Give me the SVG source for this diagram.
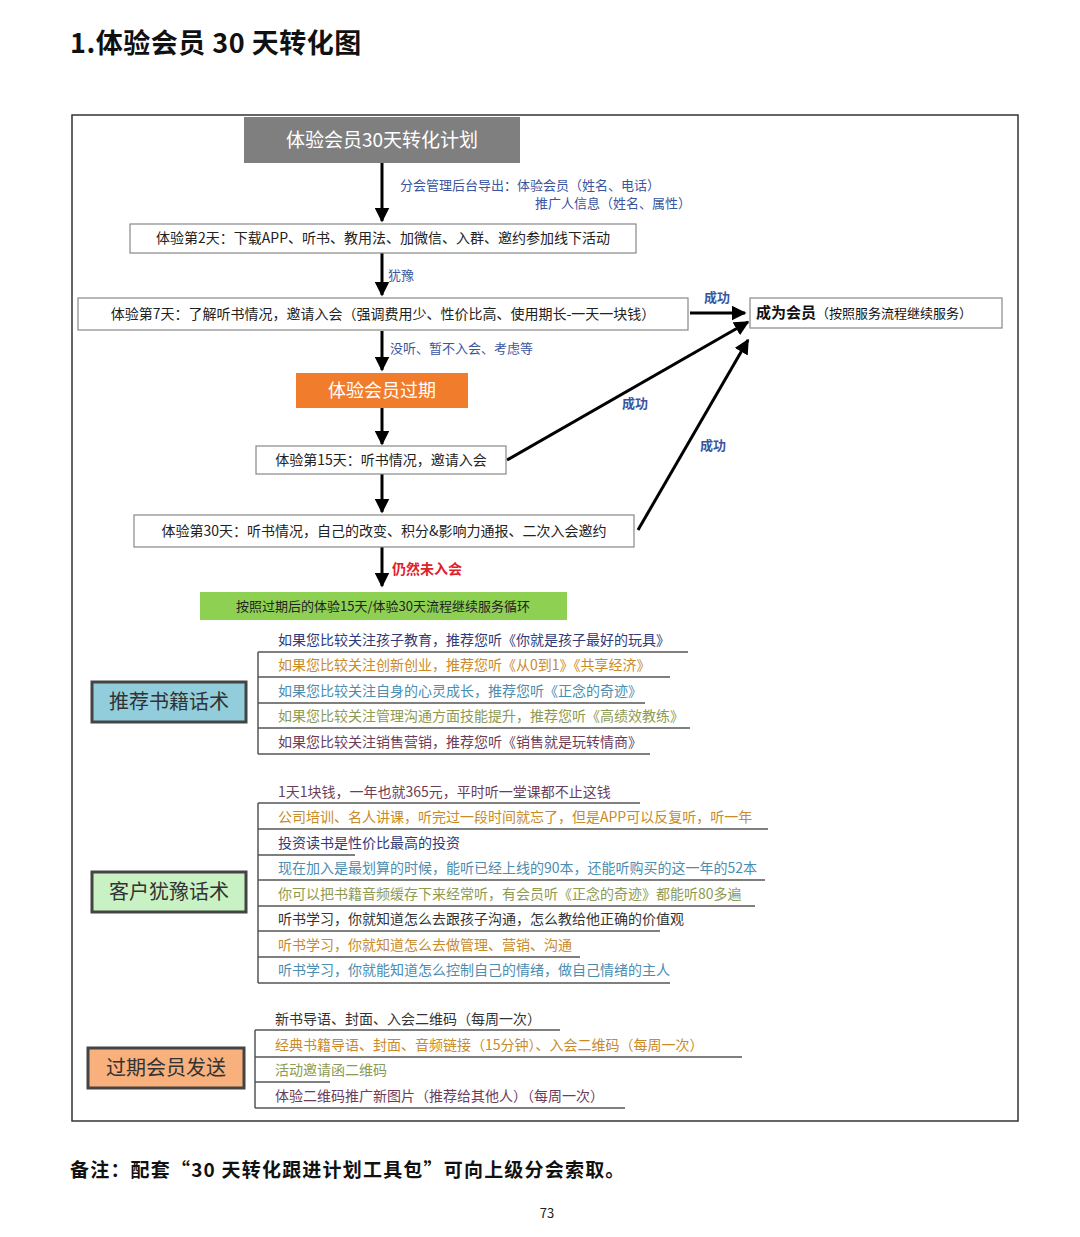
<svg xmlns="http://www.w3.org/2000/svg" width="1080" height="1237" viewBox="0 0 1080 1237">
<defs>
<marker id="ah" viewBox="0 0 10 10" refX="9" refY="5" markerWidth="5" markerHeight="5" orient="auto"><path d="M0,0 L10,5 L0,10 z" fill="#000"/></marker>
<style>
text{font-family:"Noto Sans CJK SC","Liberation Sans",sans-serif}
.box{fill:#fff;stroke:#888;stroke-width:1.2}
.t{font-size:14px;fill:#222}
.b{font-size:13px;fill:#3a55a0}
.c{stroke:#000;stroke-width:3;fill:none;marker-end:url(#ah)}
.br{stroke:#555;stroke-width:1.5;fill:none}
.i{font-size:14px}
.k1{fill:#2e3a7a}.k2{fill:#c98a2a}.k3{fill:#4b8db0}.k4{fill:#8d9a52}.k5{fill:#6b3d5a}.k6{fill:#333}
.mt{font-size:20px;fill:#333}
</style>
</defs>
<rect width="1080" height="1237" fill="#fff"/>
<text x="70" y="53" font-size="27" font-weight="bold" fill="#111" letter-spacing="0.5">1.体验会员 30 天转化图</text>
<rect x="72" y="115" width="946" height="1006" fill="#fff" stroke="#333" stroke-width="1.5"/>

<g id="connectors">
<line class="c" x1="382" y1="163" x2="382" y2="221"/>
<line class="c" x1="382" y1="253" x2="382" y2="295"/>
<line class="c" x1="690" y1="313" x2="745" y2="313"/>
<line class="c" x1="382" y1="331" x2="382" y2="370"/>
<line class="c" x1="382" y1="408" x2="382" y2="444"/>
<line class="c" x1="507" y1="460" x2="748" y2="322"/>
<line class="c" x1="382" y1="474" x2="382" y2="512"/>
<line class="c" x1="638" y1="530" x2="748" y2="340"/>
<line class="c" x1="382" y1="547" x2="382" y2="586"/>
<text x="400" y="190" class="b">分会管理后台导出：体验会员（姓名、电话）</text>
<text x="535" y="208" class="b">推广人信息（姓名、属性）</text>
<text x="388" y="280" class="b">犹豫</text>
<text x="704" y="302" class="b" font-weight="bold">成功</text>
<text x="390" y="353" class="b">没听、暂不入会、考虑等</text>
<text x="622" y="408" class="b" font-weight="bold">成功</text>
<text x="700" y="450" class="b" font-weight="bold">成功</text>
<text x="392" y="574" font-size="14" font-weight="bold" fill="#e0202a">仍然未入会</text>
</g>

<g id="plan"><rect x="244" y="117" width="276" height="46" fill="#7f7f7f"/><text x="382" y="147" font-size="19" fill="#fff" text-anchor="middle">体验会员30天转化计划</text></g>
<g id="day2"><rect class="box" x="130" y="224" width="506" height="29"/><text x="383" y="243" class="t" text-anchor="middle">体验第2天：下载APP、听书、教用法、加微信、入群、邀约参加线下活动</text></g>
<g id="day7"><rect class="box" x="78" y="298" width="610" height="32"/><text x="383" y="319" class="t" text-anchor="middle">体验第7天：了解听书情况，邀请入会（强调费用少、性价比高、使用期长-一天一块钱）</text></g>
<g id="member"><rect class="box" x="750" y="298" width="252" height="30"/><text x="756" y="318" font-size="15" fill="#111"><tspan font-weight="bold">成为会员</tspan><tspan font-size="13">（按照服务流程继续服务）</tspan></text></g>
<g id="expired"><rect x="296" y="373" width="172" height="35" fill="#f07c2c"/><text x="382" y="397" font-size="18" fill="#fff" text-anchor="middle">体验会员过期</text></g>
<g id="day15"><rect class="box" x="256" y="446" width="250" height="28"/><text x="381" y="465" class="t" text-anchor="middle">体验第15天：听书情况，邀请入会</text></g>
<g id="day30"><rect class="box" x="134" y="515" width="500" height="32"/><text x="384" y="536" class="t" text-anchor="middle">体验第30天：听书情况，自己的改变、积分&amp;影响力通报、二次入会邀约</text></g>
<g id="loop"><rect x="200" y="592" width="367" height="28" fill="#8ed152"/><text x="383" y="611" font-size="13" fill="#222" text-anchor="middle">按照过期后的体验15天/体验30天流程继续服务循环</text></g>

<g id="books">
<rect x="92" y="682" width="154" height="40" fill="#92cddc" stroke="#444" stroke-width="3"/>
<text x="169" y="709" class="mt" text-anchor="middle">推荐书籍话术</text>
<path class="br" d="M258,652 V754 M258,652 H688 M258,677 H670 M258,703 H645 M258,728 H690 M258,754 H650"/>
<text x="278" y="645" class="i k1">如果您比较关注孩子教育，推荐您听《你就是孩子最好的玩具》</text>
<text x="278" y="670" class="i k2">如果您比较关注创新创业，推荐您听《从0到1》《共享经济》</text>
<text x="278" y="696" class="i k3">如果您比较关注自身的心灵成长，推荐您听《正念的奇迹》</text>
<text x="278" y="721" class="i k4">如果您比较关注管理沟通方面技能提升，推荐您听《高绩效教练》</text>
<text x="278" y="747" class="i k5">如果您比较关注销售营销，推荐您听《销售就是玩转情商》</text>
</g>

<g id="hesitate">
<rect x="92" y="872" width="154" height="40" fill="#c9f2c4" stroke="#444" stroke-width="3"/>
<text x="169" y="899" class="mt" text-anchor="middle">客户犹豫话术</text>
<path class="br" d="M258,803 V983 M258,803 H640 M258,829 H768 M258,855 H355 M258,880 H765 M258,906 H755 M258,931 H660 M258,957 H580 M258,983 H670"/>
<text x="278" y="797" class="i k5">1天1块钱，一年也就365元，平时听一堂课都不止这钱</text>
<text x="278" y="822" class="i k2">公司培训、名人讲课，听完过一段时间就忘了，但是APP可以反复听，听一年</text>
<text x="278" y="848" class="i k1">投资读书是性价比最高的投资</text>
<text x="278" y="873" class="i k3">现在加入是最划算的时候，能听已经上线的90本，还能听购买的这一年的52本</text>
<text x="278" y="899" class="i k4">你可以把书籍音频缓存下来经常听，有会员听《正念的奇迹》都能听80多遍</text>
<text x="278" y="924" class="i k6">听书学习，你就知道怎么去跟孩子沟通，怎么教给他正确的价值观</text>
<text x="278" y="950" class="i k2">听书学习，你就知道怎么去做管理、营销、沟通</text>
<text x="278" y="975" class="i k3">听书学习，你就能知道怎么控制自己的情绪，做自己情绪的主人</text>
</g>

<g id="send">
<rect x="88" y="1048" width="156" height="40" fill="#f8b07c" stroke="#444" stroke-width="3"/>
<text x="166" y="1075" class="mt" text-anchor="middle">过期会员发送</text>
<path class="br" d="M255,1030 V1108 M255,1030 H560 M255,1057 H742 M255,1082 H330 M255,1108 H625"/>
<text x="275" y="1024" class="i k6">新书导语、封面、入会二维码（每周一次）</text>
<text x="275" y="1050" class="i k2">经典书籍导语、封面、音频链接（15分钟）、入会二维码（每周一次）</text>
<text x="275" y="1075" class="i k4">活动邀请函二维码</text>
<text x="275" y="1101" class="i k5">体验二维码推广新图片（推荐给其他人）（每周一次）</text>
</g>

<text x="70" y="1177" font-size="19" font-weight="bold" fill="#111" letter-spacing="1.2">备注：配套“30 天转化跟进计划工具包”可向上级分会索取。</text>
<text x="547" y="1218" font-size="13" fill="#222" text-anchor="middle">73</text>
</svg>
